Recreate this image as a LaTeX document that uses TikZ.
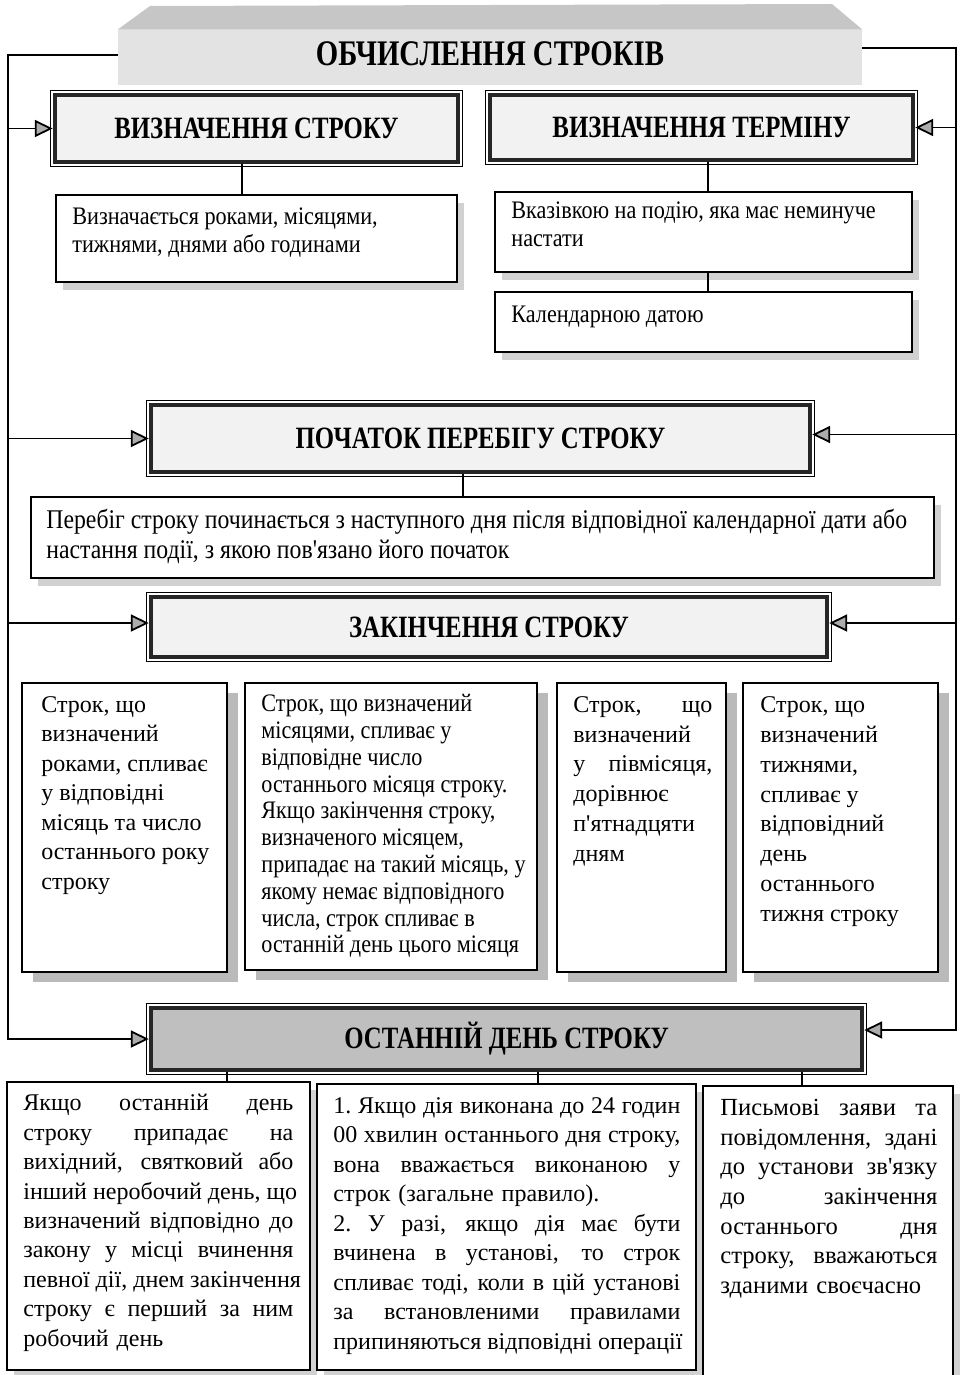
\documentclass[tikz,border=0pt]{standalone}
\usepackage{fontspec}
\setmainfont{Liberation Serif}
\newfontfamily\bodyfont{Liberation Serif}
\newfontfamily\narrowfont[FakeStretch=0.88]{Liberation Serif}
\newfontfamily\headfont[FakeStretch=0.8]{Liberation Serif}
\usetikzlibrary{arrows.meta,positioning,fit,shadows}

% one justified line of a box text
\newcommand{\jline}[1]{\noindent{\spaceskip=0.25em plus 1fill\xspaceskip=0.25em plus 1fill\relax
  \hbox to \hsize{#1}}}

\tikzset{
  headbox/.style={draw=black!85, line width=2.2pt, fill=gray!10, inner sep=0pt,
    append after command={\pgfextra{\draw[line width=0.6pt]
      ([shift={(-1.3pt,1.3pt)}]\tikzlastnode.north west) rectangle
      ([shift={(1.3pt,-1.3pt)}]\tikzlastnode.south east);}}},
  headtext/.style={font=\headfont\bfseries\fontsize{15.5}{18}\selectfont},
  framebox/.style={draw, line width=0.8pt, fill=white, inner sep=0pt},
  softshadow/.style={drop shadow={shadow xshift=3.5pt, shadow yshift=-4pt,
    fill=gray!45, opacity=0.8}},
  deepshadow/.style={drop shadow={shadow xshift=5.5pt, shadow yshift=-5pt,
    fill=gray!60, opacity=0.9}},
  bodytext/.style={anchor=north west, inner sep=0pt, align=left},
  rail/.style={line width=0.9pt},
  arr/.style={rail, -{Triangle[length=9pt, width=8.5pt, fill=gray!65]}},
  link/.style={line width=0.8pt}
}

\begin{document}
\begin{tikzpicture}[x=0.5pt, y=-0.5pt]
\useasboundingbox (0,0) rectangle (963,1375);

% banner
\node[fit={(118,30) (862,85)}, inner sep=0pt, fill=gray!22] (banner) {};
\fill[gray!45] (banner.north west) -- (150,6) -- (832,4)
  -- (banner.north east) -- cycle;
\node[font=\headfont\bfseries\fontsize{18}{20}\selectfont] (title)
  at (490,54) {ОБЧИСЛЕННЯ СТРОКІВ};

% definitions
\node[headbox, fit={(55,95) (458,162)},
  label={[headtext]center:ВИЗНАЧЕННЯ СТРОКУ}] (strokbox) {};
\node[headbox, fit={(490,95) (913,160)},
  label={[headtext]center:ВИЗНАЧЕННЯ ТЕРМІНУ}] (terminbox) {};

\node[framebox, softshadow, fit={(56,195) (457,282)}] (unitsbox) {};
\node[bodytext, font=\narrowfont\fontsize{12.6}{14}\selectfont] (unitstext)
  at (72,207) {Визначається роками, місяцями,\\ тижнями, днями або годинами};

\node[framebox, softshadow, fit={(495,192) (912,272)}] (eventbox) {};
\node[bodytext, font=\narrowfont\fontsize{12.6}{14}\selectfont] (eventtext)
  at (511,201) {Вказівкою на подію, яка має неминуче\\ настати};

\node[framebox, softshadow, fit={(495,292) (912,352)}] (datebox) {};
\node[bodytext, font=\narrowfont\fontsize{12.6}{14}\selectfont] (datetext)
  at (511,306) {Календарною датою};

\draw[link] (242,0 |- strokbox.south) -- (242,0 |- unitsbox.north);
\draw[link] (708,0 |- terminbox.south) -- (708,0 |- eventbox.north);
\draw[link] (708,0 |- eventbox.south) -- (708,0 |- datebox.north);

% start
\node[headbox, fit={(151,405) (810,472)},
  label={[headtext]center:ПОЧАТОК ПЕРЕБІГУ СТРОКУ}] (startbox) {};
\node[framebox, softshadow, fit={(31,497) (934,578)}] (runbox) {};
\node[bodytext, font=\narrowfont\fontsize{13.5}{15}\selectfont] (runtext)
  at (46,509) {Перебіг строку починається з наступного дня після відповідної календарної дати або\\
  настання події, з якою пов'язано його початок};
\draw[link] (463,0 |- startbox.south) -- (463,0 |- runbox.north);

% end
\node[headbox, fit={(151,597) (827,657)},
  label={[headtext]center:ЗАКІНЧЕННЯ СТРОКУ}] (endbox) {};

\node[framebox, deepshadow, fit={(22,683) (227,972)}] (yearsbox) {};
\node[bodytext, font=\bodyfont\fontsize{12}{14.75}\selectfont] (yearstext)
  at (41,696) {Строк, що\\ визначений\\ роками, спливає\\ у відповідні\\
  місяць та число\\ останнього року\\ строку};

\node[framebox, deepshadow, fit={(245,683) (537,970)}] (monthsbox) {};
\node[bodytext, font=\narrowfont\fontsize{12.6}{13.4}\selectfont] (monthstext)
  at (261,694) {Строк, що визначений\\ місяцями, спливає у\\ відповідне число\\
  останнього місяця строку.\\ Якщо закінчення строку,\\ визначеного місяцем,\\
  припадає на такий місяць, у\\ якому немає відповідного\\
  числа, строк спливає в\\ останній день цього місяця};

\node[framebox, deepshadow, fit={(557,683) (726,972)}] (halfbox) {};
\node[bodytext, text width=69.5pt, font=\bodyfont\fontsize{12}{14.9}\selectfont] (halftext)
  at (573,696) {\jline{Строк, що}\\ визначений\\ \jline{у півмісяця,}\\
  дорівнює\\ п'ятнадцяти\\ дням};

\node[framebox, deepshadow, fit={(743,683) (938,972)}] (weeksbox) {};
\node[bodytext, font=\bodyfont\fontsize{12}{14.95}\selectfont] (weekstext)
  at (760,696) {Строк, що\\ визначений\\ тижнями,\\ спливає у\\ відповідний\\
  день\\ останнього\\ тижня строку};

% last day
\node[headbox, fill=gray!50, fit={(151,1008) (862,1070)},
  label={[headtext]center:ОСТАННІЙ ДЕНЬ СТРОКУ}] (lastday) {};

\node[framebox, softshadow, fit={(7,1082) (310,1370)}] (holidaybox) {};
\node[bodytext, text width=135pt, font=\bodyfont\fontsize{12}{14.7}\selectfont] (holidaytext)
  at (23,1094) {\jline{Якщо останній день}\\
  \jline{строку припадає на}\\
  \jline{вихідний, святковий або}\\
  \jline{інший неробочий день, що}\\
  \jline{визначений відповідно до}\\
  \jline{закону у місці вчинення}\\
  \jline{певної дії, днем закінчення}\\
  \jline{строку є перший за ним}\\
  робочий день};

\node[framebox, softshadow, fit={(317,1084) (696,1370)}] (hoursbox) {};
\node[bodytext, text width=173.5pt, font=\bodyfont\fontsize{12}{14.75}\selectfont] (hourstext)
  at (333,1097) {\jline{1. Якщо дія виконана до 24 годин}\\
  \jline{00 хвилин останнього дня строку,}\\
  \jline{вона вважається виконаною у}\\
  строк (загальне правило).\\
  \jline{2. У разі, якщо дія має бути}\\
  \jline{вчинена в установі, то строк}\\
  \jline{спливає тоді, коли в цій установі}\\
  \jline{за встановленими правилами}\\
  \jline{припиняються відповідні операції}};

\node[framebox, softshadow, fit={(703,1086) (953,1380)}] (mailbox) {};
\node[bodytext, text width=108.5pt, font=\bodyfont\fontsize{12.3}{14.8}\selectfont] (mailtext)
  at (720,1099) {\jline{Письмові заяви та}\\
  \jline{повідомлення, здані}\\
  \jline{до установи зв'язку}\\
  \jline{до закінчення}\\
  \jline{останнього дня}\\
  \jline{строку, вважаються}\\
  зданими своєчасно};

\draw[link] (227,0 |- lastday.south) -- (227,0 |- holidaybox.north);
\draw[link] (538,0 |- lastday.south) -- (538,0 |- hoursbox.north);
\draw[link] (802,0 |- lastday.south) -- (802,0 |- mailbox.north);

% side rails with arrows
\coordinate (railL) at (8,55);
\coordinate (railR) at (956,48);
\draw[arr] (railL -| banner.west) -- (railL) |- (lastday.west);
\draw[arr] (railR -| banner.east) -- (railR) |- ([yshift=4.5pt]lastday.east);
\draw[arr] (railL |- strokbox.west) -- (strokbox.west);
\draw[arr] (railR |- terminbox.east) -- (terminbox.east);
\draw[arr] (railL |- startbox.west) -- (startbox.west);
\draw[arr] ([yshift=2pt]railR |- startbox.east) -- ([yshift=2pt]startbox.east);
\draw[arr] ([yshift=2pt]railL |- endbox.west) -- ([yshift=2pt]endbox.west);
\draw[arr] ([yshift=2pt]railR |- endbox.east) -- ([yshift=2pt]endbox.east);
\end{tikzpicture}
\end{document}
